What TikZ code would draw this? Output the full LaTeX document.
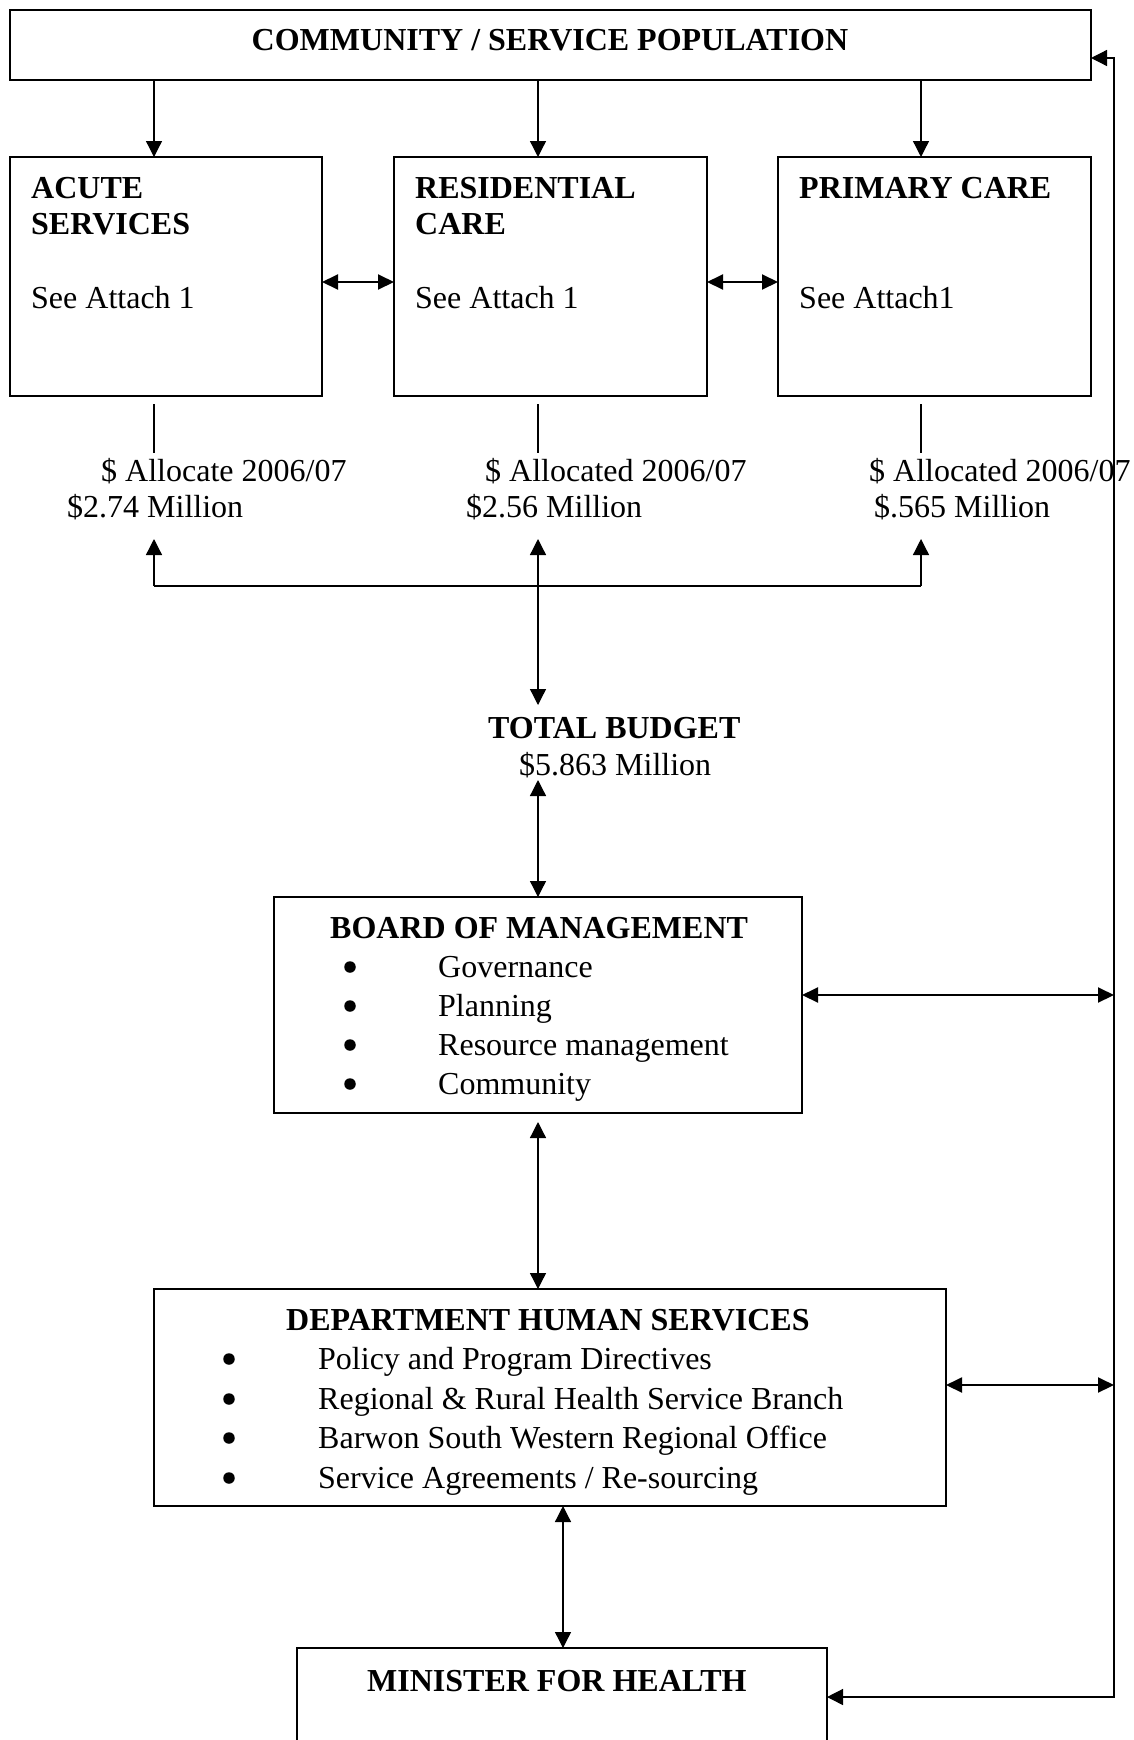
\documentclass[tikz,border=0pt]{standalone}
\usepackage{fontspec}
\setmainfont{Liberation Serif}
\usetikzlibrary{arrows.meta}
\begin{document}
\begin{tikzpicture}[x=1pt,y=-1pt,
  box/.style={draw,line width=1.6pt,rectangle,inner sep=0pt,outer sep=0pt,anchor=north west},
  txt/.style={anchor=base west,inner sep=0pt,font=\fontsize{32}{38}\selectfont},
  btxt/.style={txt,font=\fontsize{32}{38}\selectfont\bfseries},
  bul/.style={circle,fill,inner sep=0pt,minimum size=11.5pt},
  conn/.style={line width=1.3pt},
  arr/.style={conn,-{Triangle[length=16pt,width=16pt]}},
  darr/.style={conn,{Triangle[length=16pt,width=16pt]}-{Triangle[length=16pt,width=16pt]}},
  hdarr/.style={line width=2pt,{Triangle[length=16pt,width=15pt]}-{Triangle[length=16pt,width=15pt]}}
]
\useasboundingbox (0,0) rectangle (1134,1740);
\clip (0,0) rectangle (1134,1740);
\fill[white] (0,0) rectangle (1134,1740);

% boxes
\node[box,minimum width=1081pt,minimum height=70pt] (top) at (10,10) {};
\node[box,minimum width=312pt,minimum height=239pt] (acute) at (10,157) {};
\node[box,minimum width=313pt,minimum height=239pt] (resid) at (394,157) {};
\node[box,minimum width=313pt,minimum height=239pt] (prim) at (778,157) {};
\node[box,minimum width=528pt,minimum height=216pt] (board) at (274,897) {};
\node[box,minimum width=792pt,minimum height=217pt] (dhs) at (154,1289) {};
\node[box,minimum width=530pt,minimum height=130pt] (min) at (297,1648) {};

% texts
\node[btxt,anchor=base] (ttop) at (550,50) {COMMUNITY / SERVICE POPULATION};
\node[btxt] (ta1) at (31,198) {ACUTE};
\node[btxt] (ta2) at (31,234) {SERVICES};
\node[txt] (ta3) at (31,308) {See Attach 1};
\node[btxt] (tr1) at (415,198) {RESIDENTIAL};
\node[btxt] (tr2) at (415,234) {CARE};
\node[txt] (tr3) at (415,308) {See Attach 1};
\node[btxt] (tp1) at (799,198) {PRIMARY CARE};
\node[txt] (tp3) at (799,308) {See Attach1};

\node[txt] (al1) at (101,481) {\$ Allocate 2006/07};
\node[txt] (am1) at (67,517) {\$2.74 Million};
\node[txt] (al2) at (485,481) {\$ Allocated 2006/07};
\node[txt] (am2) at (466,517) {\$2.56 Million};
\node[txt] (al3) at (869,481) {\$ Allocated 2006/07};
\node[txt] (am3) at (874,517) {\$.565 Million};

\node[btxt] (tb1) at (488,738) {TOTAL BUDGET};
\node[txt] (tb2) at (519,775) {\$5.863 Million};

\node[btxt] (bh) at (330,938) {BOARD OF MANAGEMENT};
\node[bul] (bb1) at (350,967) {};
\node[bul] (bb2) at (350,1006) {};
\node[bul] (bb3) at (350,1045) {};
\node[bul] (bb4) at (350,1084) {};
\node[txt] (bi1) at (438,977) {Governance};
\node[txt] (bi2) at (438,1016) {Planning};
\node[txt] (bi3) at (438,1055) {Resource management};
\node[txt] (bi4) at (438,1094) {Community};

\node[btxt] (dh) at (286,1330) {DEPARTMENT HUMAN SERVICES};
\node[bul] (db1) at (229,1359) {};
\node[bul] (db2) at (229,1399) {};
\node[bul] (db3) at (229,1438) {};
\node[bul] (db4) at (229,1478) {};
\node[txt] (di1) at (318,1369) {Policy and Program Directives};
\node[txt] (di2) at (318,1409) {Regional \& Rural Health Service Branch};
\node[txt] (di3) at (318,1448) {Barwon South Western Regional Office};
\node[txt] (di4) at (318,1488) {Service Agreements / Re-sourcing};

\node[btxt] (mh) at (367,1691) {MINISTER FOR HEALTH};

% coordinates
\coordinate (x1) at (154,0);
\coordinate (x2) at (538,0);
\coordinate (x3) at (921,0);
\coordinate (xm) at (563,0);
\coordinate (ys) at (0,282);
\coordinate (l1t) at (154,404);
\coordinate (l1b) at (154,453);
\coordinate (l2t) at (538,404);
\coordinate (l2b) at (538,453);
\coordinate (l3t) at (921,404);
\coordinate (l3b) at (921,453);
\coordinate (u1) at (154,539);
\coordinate (u2) at (538,539);
\coordinate (u3) at (921,539);
\coordinate (h1) at (154,586);
\coordinate (h3) at (921,586);
\coordinate (tbt) at (538,705);
\coordinate (tbb) at (538,780);
\coordinate (bbot) at (538,1122);
\coordinate (rtop) at (1114,58);
\coordinate (rbot) at (1114,1697);
\coordinate (rb) at (1114,995);
\coordinate (rd) at (1114,1385);

% connectors
\draw[arr] (top.south -| x1) -- (acute.north -| x1);
\draw[arr] (top.south -| x2) -- (resid.north -| x2);
\draw[arr] (top.south -| x3) -- (prim.north -| x3);
\draw[hdarr] (acute.east |- ys) -- (resid.west |- ys);
\draw[hdarr] (resid.east |- ys) -- (prim.west |- ys);

\draw[conn] (l1t) -- (l1b);
\draw[conn] (l2t) -- (l2b);
\draw[conn] (l3t) -- (l3b);

\draw[arr] (h1) -- (u1);
\draw[arr] (h3) -- (u3);
\draw[line width=1.8pt] (h1) -- (h3);
\draw[darr] (u2) -- (tbt);

\draw[darr] (tbb) -- (board.north -| x2);
\draw[darr] (bbot) -- (dhs.north -| x2);
\draw[darr] (dhs.south -| xm) -- (min.north -| xm);

\draw[hdarr] (board.east |- rb) -- (rb);
\draw[hdarr] (dhs.east |- rd) -- (rd);
\draw[conn,{Triangle[length=16pt,width=16pt]}-{Triangle[length=16pt,width=16pt]}]
  (min.east |- rbot) -- (rbot) -- (rtop) -- (top.east |- rtop);
\end{tikzpicture}
\end{document}
